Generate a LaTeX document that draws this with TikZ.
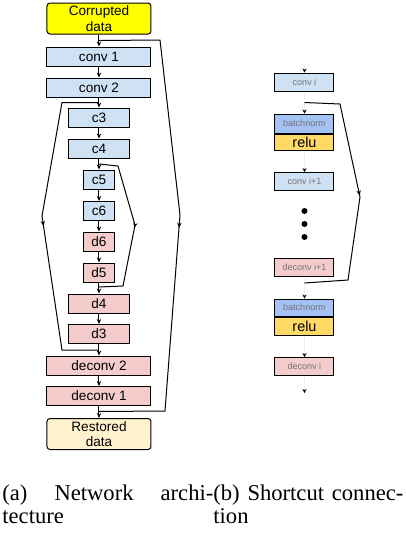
\documentclass[tikz,border=0pt]{standalone}
\usepackage{fontspec}
\setmainfont{Liberation Serif}
\setsansfont{Liberation Sans}
\usepackage{tikz}
\usetikzlibrary{arrows}
\usetikzlibrary{arrows.meta}
\usetikzlibrary{decorations.markings}
\usetikzlibrary{positioning}
\definecolor{convblue}{HTML}{CFE2F3}
\definecolor{deconvpink}{HTML}{F4CCCC}
\definecolor{inyellow}{HTML}{FFFF00}
\definecolor{outcream}{HTML}{FFF2CC}
\definecolor{bnblue}{HTML}{A4C2F4}
\definecolor{reluyellow}{HTML}{FFD966}
\tikzset{layer/.style = {draw, line width = 0.5, inner sep = 0, minimum height = 9.5pt, font = \sffamily\fontsize{6.8}{7.8}\selectfont}}
\tikzset{widebox/.style = {layer, minimum width = 52pt}}
\tikzset{midbox/.style = {layer, minimum width = 30.5pt}}
\tikzset{narrowbox/.style = {layer, minimum width = 15.5pt}}
\tikzset{enc/.style = {fill = convblue}}
\tikzset{dec/.style = {fill = deconvpink}}
\tikzset{databox/.style = {layer, rounded corners = 1.5pt, align = center, minimum width = 52pt, minimum height = 15.5pt}}
\tikzset{flow/.style = {line width = 0.5, -{Stealth[length = 2.5pt, width = 2.2pt]}}}
\tikzset{skipline/.style = {line width = 0.5, postaction = {decorate},
    decoration = {markings, mark = at position 0.5 with {\arrow{Stealth[length = 2.5pt, width = 2.2pt]}}}}}
\tikzset{shortbox/.style = {draw, line width = 0.5, inner sep = 0, minimum width = 29.5pt, minimum height = 9pt,
    font = \sffamily\fontsize{4.5}{5}\selectfont, text = black!55}}
\tikzset{relubox/.style = {shortbox, fill = reluyellow, font = \sffamily\fontsize{7.2}{8}\selectfont, text = black}}
\tikzset{faint/.style = {draw = black!6, line width = 0.5, -{Stealth[black, length = 2pt, width = 2pt]}}}
\tikzset{dotmark/.style = {fill, circle, inner sep = 0, minimum size = 3pt}}
\tikzset{captext/.style = {anchor = north west, inner sep = 0, align = left, font = \fontsize{11.3}{11.5}\selectfont}}

\begin{document}
\begin{tikzpicture}[x = 0.5pt, y = -0.5pt]
    \useasboundingbox (0, 0) rectangle (406, 538);

    % network architecture
    \node [databox, fill = inyellow] (input) at (99, 18.5) {Corrupted\\data};
    \node [widebox, enc] (conv1) at (99, 56.5) {conv 1};
    \node [widebox, enc] (conv2) at (99, 87.5) {conv 2};
    \node [midbox, enc] (c3) at (99, 117.5) {c3};
    \node [midbox, enc] (c4) at (99, 148.5) {c4};
    \node [narrowbox, enc] (c5) at (99, 179.5) {c5};
    \node [narrowbox, enc] (c6) at (99, 211) {c6};
    \node [narrowbox, dec] (d6) at (99, 241.5) {d6};
    \node [narrowbox, dec] (d5) at (99, 272.5) {d5};
    \node [midbox, dec] (d4) at (99, 303.5) {d4};
    \node [midbox, dec] (d3) at (99, 334) {d3};
    \node [widebox, dec] (deconv2) at (99, 365.5) {deconv 2};
    \node [widebox, dec] (deconv1) at (99, 396) {deconv 1};
    \node [databox, fill = outcream] (output) at (99, 434) {Restored\\data};

    \foreach \a/\b in {input/conv1, conv1/conv2, conv2/c3, c3/c4, c4/c5, c5/c6, c6/d6,
                       d6/d5, d5/d4, d4/d3, d3/deconv2, deconv2/deconv1, deconv1/output}
      \draw [flow] (\a) -- (\b);

    \coordinate (outerin) at (99, 40.5);
    \coordinate (outerout) at (99, 411.5);
    \coordinate (leftin) at (99, 102.5);
    \coordinate (leftout) at (99, 350);
    \coordinate (innerin) at (99, 164);
    \coordinate (innerout) at (99, 287);
    \draw [skipline] (outerin) -- (160, 40) -- (180, 215) -- (165, 411) -- (outerout);
    \draw [skipline] (leftin) -- (62, 102.5) -- (42, 216) -- (62, 350) -- (leftout);
    \draw [skipline] (innerin) -- (118, 166) -- (135, 225) -- (123, 286) -- (innerout);

    % shortcut connection
    \node [shortbox, enc] (convi) at (304.5, 82) {conv i};
    \node [shortbox, fill = bnblue, minimum height = 9.5pt] (bn1) at (304.5, 123.5) {batchnorm};
    \node [relubox, minimum height = 8pt, below = 0pt of bn1] (relu1) {relu};
    \node [shortbox, enc] (convi1) at (304.5, 181.5) {conv i+1};
    \node [dotmark] (dot1) at (304.5, 211) {};
    \node [dotmark] (dot2) at (304.5, 224) {};
    \node [dotmark] (dot3) at (304.5, 237) {};
    \node [shortbox, dec] (deconvi1) at (304.5, 267) {deconv i+1};
    \node [shortbox, fill = bnblue, minimum height = 8.5pt] (bn2) at (304.5, 307.5) {batchnorm};
    \node [relubox, below = 0pt of bn2] (relu2) {relu};
    \node [shortbox, dec] (deconvi) at (304.5, 366.5) {deconv i};

    \coordinate (rin) at (304.5, 62);
    \coordinate (rout) at (304.5, 393);
    \draw [faint] (rin) -- (convi);
    \draw [faint] (convi) -- (bn1);
    \draw [faint] (relu1) -- (convi1);
    \draw [faint] (deconvi1) -- (bn2);
    \draw [faint] (relu2) -- (deconvi);
    \draw [faint] (deconvi) -- (rout);

    \coordinate (resin) at (304.5, 102.5);
    \coordinate (resout) at (304.5, 283);
    \draw [skipline] (resin) -- (340, 104) -- (360, 197) -- (348, 280) -- (resout);

    % captions
    \node [captext, text width = 105.5pt] (capa) at (2, 484) {(a)\hfill Network\hfill archi-\\tecture};
    \node [captext, text width = 95pt] (capb) at (213, 484) {(b)\hfill Shortcut\hfill connec-\\tion};
  \end{tikzpicture}
\end{document}
